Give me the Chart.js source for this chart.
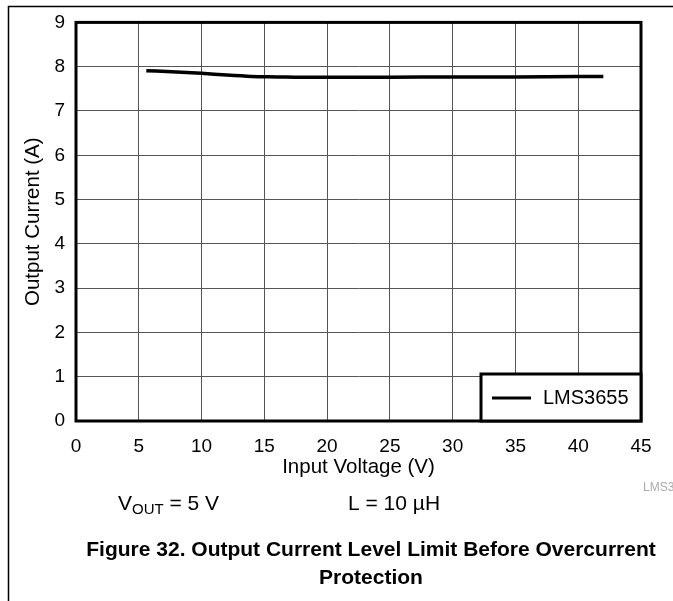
<!DOCTYPE html>
<html>
<head>
<meta charset="utf-8">
<script src="https://cdn.jsdelivr.net/npm/chart.js@4/dist/chart.umd.min.js"></script>
<style>
  html, body { margin: 0; padding: 0; background: #fff; }
  #wrap { width: 673px; height: 601px; }
</style>
</head>
<body>
<div id="wrap"><canvas id="c" width="673" height="601"></canvas></div>
<script>
// --- data ---
const inputVoltage = [5.6, 8, 10, 12, 14, 16, 18, 20, 25, 30, 35, 40, 42];
const outputCurrent = [7.91, 7.88, 7.85, 7.81, 7.78, 7.77, 7.76, 7.76, 7.76, 7.77, 7.77, 7.78, 7.78];
const seriesName = 'LMS3655';
const xTitle = 'Input Voltage (V)';
const yTitle = 'Output Current (A)';
const captionLines = ['Figure 32. Output Current Level Limit Before Overcurrent', 'Protection'];

const FONT = 'Liberation Sans, Arial, sans-serif';

// frame, plot border, legend box and the text under the plot
const extras = {
  id: 'extras',
  beforeDraw(chart) {
    const ctx = chart.ctx;
    ctx.save();
    ctx.fillStyle = '#fff';
    ctx.fillRect(0, 0, chart.width, chart.height);
    ctx.strokeStyle = '#000';
    ctx.lineWidth = 1.5;
    ctx.beginPath();
    ctx.moveTo(8.5, chart.height);
    ctx.lineTo(8.5, 6.5);
    ctx.lineTo(chart.width, 6.5);
    ctx.stroke();
    ctx.restore();
  },
  afterDraw(chart) {
    const ctx = chart.ctx;
    const a = chart.chartArea;
    ctx.save();
    // heavy border round the plot
    ctx.strokeStyle = '#000';
    ctx.lineWidth = 3;
    ctx.strokeRect(a.left, a.top, a.right - a.left, a.bottom - a.top);

    // legend box in the lower right corner
    const bx = 481, by = 374, bw = a.right - 481, bh = a.bottom - 374;
    ctx.fillStyle = '#fff';
    ctx.fillRect(bx, by, bw, bh);
    ctx.lineWidth = 3;
    ctx.strokeRect(bx, by, bw, bh);
    ctx.beginPath();
    ctx.moveTo(492, 398);
    ctx.lineTo(531, 398);
    ctx.stroke();
    ctx.fillStyle = '#000';
    ctx.font = '20px ' + FONT;
    ctx.textBaseline = 'middle';
    ctx.textAlign = 'left';
    ctx.fillText(chart.data.datasets[0].label, 543, 398);

    // small grey figure id, cut by the right edge
    ctx.fillStyle = '#aaa';
    ctx.font = '12px ' + FONT;
    ctx.fillText('LMS3', 643, 488);

    // test conditions
    ctx.fillStyle = '#000';
    ctx.font = '21px ' + FONT;
    ctx.fillText('V', 118, 504);
    const vw = ctx.measureText('V').width;
    ctx.font = '15px ' + FONT;
    ctx.fillText('OUT', 118 + vw, 510);
    const ow = ctx.measureText('OUT').width;
    ctx.font = '21px ' + FONT;
    ctx.fillText(' = 5 V', 118 + vw + ow, 504);
    ctx.fillText('L = 10 \u00B5H', 348, 504);

    // caption
    ctx.font = 'bold 21px ' + FONT;
    ctx.textAlign = 'center';
    ctx.fillText(captionLines[0], 371, 550);
    ctx.fillText(captionLines[1], 371, 578);
    ctx.restore();
  }
};

new Chart(document.getElementById('c'), {
  type: 'line',
  data: {
    datasets: [{
      label: seriesName,
      data: inputVoltage.map((v, i) => ({ x: v, y: outputCurrent[i] })),
      borderColor: '#000',
      borderWidth: 3.5,
      pointRadius: 0,
      tension: 0.4,
      cubicInterpolationMode: 'monotone',
      fill: false
    }]
  },
  options: {
    animation: false,
    responsive: false,
    devicePixelRatio: 1,
    layout: { padding: { left: 0, right: 32, top: 22, bottom: 0 } },
    plugins: {
      legend: { display: false },
      tooltip: { enabled: false }
    },
    scales: {
      x: {
        type: 'linear',
        min: 0,
        max: 45,
        afterFit: s => { s.height = 180; },
        ticks: { stepSize: 5, color: '#000', padding: 14, font: { size: 19, family: FONT } },
        grid: { color: '#555', lineWidth: 1, drawTicks: false },
        border: { display: false },
        title: {
          display: true,
          text: xTitle,
          color: '#000',
          font: { size: 20.5, family: FONT },
          padding: { top: 0, bottom: 121 }
        }
      },
      y: {
        min: 0,
        max: 9,
        afterFit: s => { s.width = 76; },
        ticks: { stepSize: 1, color: '#000', padding: 11, font: { size: 19, family: FONT } },
        grid: { color: '#555', lineWidth: 1, drawTicks: false },
        border: { display: false },
        title: {
          display: true,
          text: yTitle,
          color: '#000',
          font: { size: 20.5, family: FONT },
          padding: { top: 21, bottom: 0 }
        }
      }
    }
  },
  plugins: [extras]
});
</script>
</body>
</html>
